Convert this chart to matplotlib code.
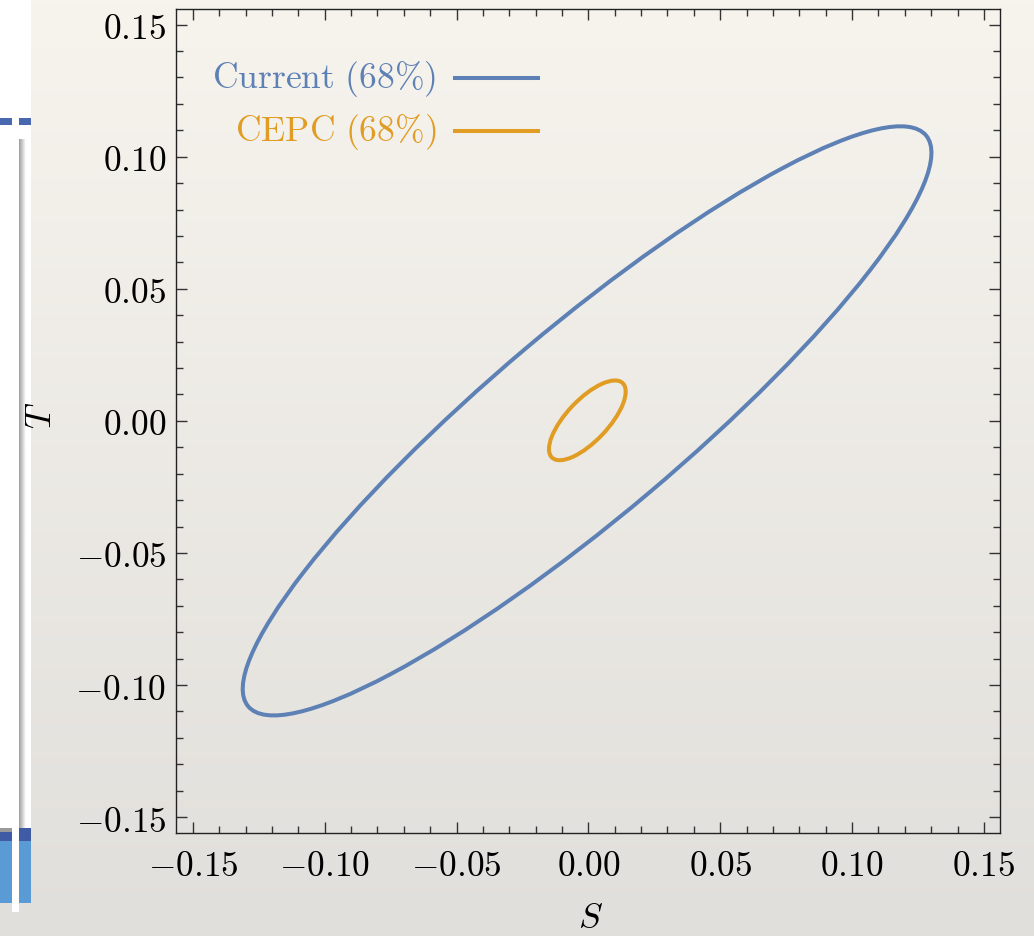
import numpy as np
import matplotlib
matplotlib.use("Agg")
import matplotlib.pyplot as plt
from matplotlib.patches import Ellipse, Rectangle

plt.rcParams['mathtext.fontset'] = 'cm'
plt.rcParams['font.family'] = ['DejaVu Serif']

# 68% contours in the S-T plane: centre, widths and correlation
names = ["Current (68%)", "CEPC (68%)"]
center_s = [-0.0005, -0.0004]
center_t = [0.0, 0.0002]
sigma_s = [0.1306, 0.01455]
sigma_t = [0.1115, 0.0151]
rho = [0.91, 0.72]
colors = ["#5E81B5", "#E19C24"]

tick_values = [-0.15, -0.10, -0.05, 0.00, 0.05, 0.10, 0.15]
tick_labels = ["$-0.15$", "$-0.10$", "$-0.05$", "$0.00$", "$0.05$", "$0.10$", "$0.15$"]

W, H = 1034, 937
fig = plt.figure(figsize=(W / 100, H / 100), dpi=100)

# slide background (beige gradient)
bg = fig.add_axes([0, 0, 1, 1], zorder=-10)
top = np.array([247, 244, 238]) / 255
bot = np.array([225, 223, 219]) / 255
grad = np.linspace(0, 1, 256)[:, None, None]
img = top * (1 - grad) + bot * grad
bg.imshow(np.repeat(img, 2, axis=1), aspect='auto', extent=[0, 1, 0, 1])
bg.axis('off')


# slide decoration on the left edge (pixel boxes)
def box(x0, y0, x1, y1, color):
    fig.patches.append(Rectangle((x0 / W, 1 - y1 / H), (x1 - x0) / W, (y1 - y0) / H,
                                 transform=fig.transFigure, color=color, lw=0, zorder=-5))


box(0, 0, 31, 829, "white")
box(0, 119, 12, 126, "#4A68B0")
box(19, 119, 31, 126, "#4A68B0")
sh = fig.add_axes([19 / W, 1 - 829 / H, 7 / W, (829 - 140) / H], zorder=-4)
shade = np.linspace(0.62, 1.0, 20)
sh.imshow(np.repeat(shade[None, :, None], 3, axis=2), aspect='auto')
sh.axis('off')
box(0, 829, 12, 833, "#9A9A9A")
box(0, 833, 12, 842, "#3F5BA5")
box(19, 829, 31, 842, "#3F5BA5")
box(0, 842, 12, 904, "#5B9BD5")
box(19, 842, 31, 904, "#5B9BD5")
box(12, 829, 19, 913, "white")

ax = fig.add_axes([176 / W, 1 - 834 / H, 824 / W, 824 / H])
ax.set_facecolor('none')

for i in range(len(names)):
    cov = np.array([[sigma_s[i] ** 2, rho[i] * sigma_s[i] * sigma_t[i]],
                    [rho[i] * sigma_s[i] * sigma_t[i], sigma_t[i] ** 2]])
    vals, vecs = np.linalg.eigh(cov)
    angle = np.degrees(np.arctan2(vecs[1, 1], vecs[0, 1]))
    ax.add_patch(Ellipse((center_s[i], center_t[i]), 2 * np.sqrt(vals[1]), 2 * np.sqrt(vals[0]),
                         angle=angle, fill=False, edgecolor=colors[i], lw=2.9))

# legend, text to the left of the line
leg_y = [0.9157, 0.8525]
for i in range(len(names)):
    ax.plot([0.3386, 0.4393], [leg_y[i], leg_y[i]], color=colors[i], lw=2.9,
            transform=ax.transAxes)
    ax.text(0.3155, leg_y[i], r"$\mathrm{" + names[i].replace(" ", r"\ ").replace("%", r"\%") + "}$",
            color=colors[i], fontsize=25.6, ha='right', va='center', transform=ax.transAxes)

ax.set_xlim(-0.1564, 0.1561)
ax.set_ylim(-0.156, 0.1559)
ax.set_xticks(tick_values)
ax.set_xticklabels(tick_labels)
ax.set_yticks(tick_values)
ax.set_yticklabels(tick_labels)
ax.set_xticks(np.arange(-0.15, 0.151, 0.01), minor=True)
ax.set_yticks(np.arange(-0.15, 0.151, 0.01), minor=True)
ax.tick_params(which='both', direction='in', top=True, right=True, color='#333333', width=1)
ax.tick_params(which='major', length=8, labelsize=25.5)
ax.tick_params(axis='x', which='major', pad=11)
ax.tick_params(axis='y', which='major', pad=7)
ax.tick_params(which='minor', length=5)
for sp in ax.spines.values():
    sp.set_linewidth(1)
    sp.set_color('#222222')

ax.set_xlabel("$S$", fontsize=25.5, va='center')
ax.xaxis.set_label_coords((590 - 176) / 824, -(918 - 834) / 824)
ax.set_ylabel("$T$", fontsize=25.5, rotation=90, va='center', ha='center')
ax.yaxis.set_label_coords((41 - 176) / 824, 1 - (415 - 9.5) / 824)

fig.savefig("out.png", dpi=100)
